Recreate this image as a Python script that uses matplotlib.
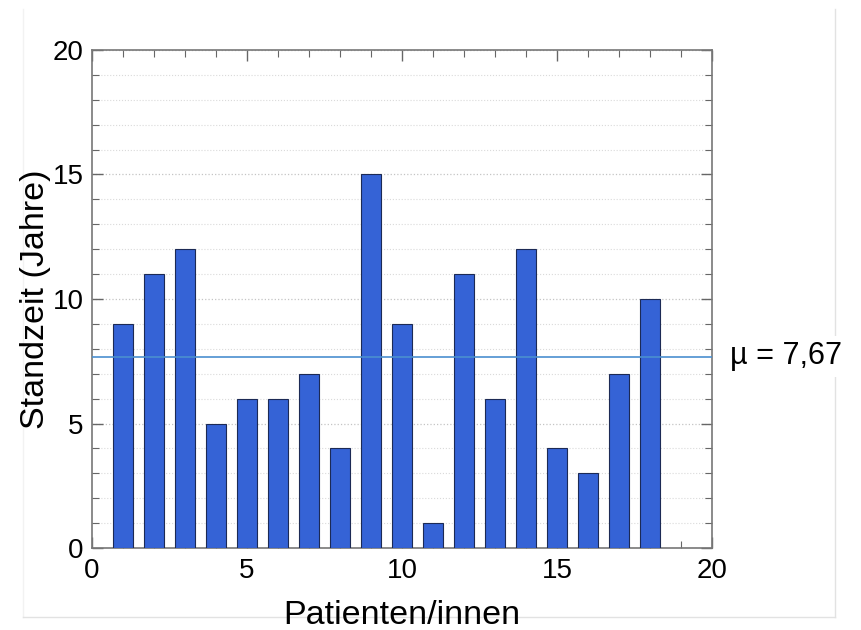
import matplotlib.pyplot as plt
from matplotlib.ticker import MultipleLocator
from matplotlib.lines import Line2D
import numpy as np

plt.rcParams["font.family"] = ["Liberation Sans", "DejaVu Sans"]

# Daten
patienten = np.arange(1, 19)
standzeit = [9, 11, 12, 5, 6, 6, 7, 4, 15, 9, 1, 11, 6, 12, 4, 3, 7, 10]
mu = np.mean(standzeit)

fig = plt.figure(figsize=(8.61, 6.30), dpi=100)

# dezenter Rahmen (links, rechts, unten) hinter allem
W, H = 861, 630
frame = [
    ([23, 23], [617, 9], "#f2f2f2"),
    ([835, 835], [617, 9], "#e2e2e2"),
    ([23, 835], [617, 617], "#e2e2e2"),
]
for xs, ys, c in frame:
    fig.add_artist(Line2D([x / W for x in xs], [1 - y / H for y in ys],
                          transform=fig.transFigure, color=c, linewidth=1.0, zorder=-1))

ax = fig.add_axes([92 / W, 1 - 548 / H, (712 - 92) / W, (548 - 50) / H])

ax.bar(patienten, standzeit, width=0.65, color="#3563d6", edgecolor="#1c2a55",
       linewidth=0.8, zorder=3)
ax.axhline(mu, color="#4a8fcf", linewidth=1.2, zorder=4)

ax.set_xlim(0, 20)
ax.set_ylim(0, 20)
ax.xaxis.set_major_locator(MultipleLocator(5))
ax.yaxis.set_major_locator(MultipleLocator(5))
ax.xaxis.set_minor_locator(MultipleLocator(1))
ax.yaxis.set_minor_locator(MultipleLocator(1))

ax.grid(which="major", axis="y", color="#c4c4c4", linestyle=":", linewidth=0.9, zorder=0)
ax.grid(which="minor", axis="y", color="#dadada", linestyle=":", linewidth=0.8, zorder=0)

ax.tick_params(which="both", direction="in", top=True, right=True, colors="#666666",
               labelcolor="black", labelsize=20)
ax.tick_params(which="major", length=8, width=1.0)
ax.tick_params(which="minor", length=5, width=0.8)
ax.tick_params(axis="x", pad=7)
ax.tick_params(axis="y", pad=6)

for s in ax.spines.values():
    s.set_color("#777777")
    s.set_linewidth(1.2)

ax.set_xlabel("Patienten/innen", fontsize=24.5, labelpad=12)
ax.set_ylabel("Standzeit (Jahre)", fontsize=24.5, labelpad=1)

fig.text(730 / W, 1 - 356 / H, "µ = 7,67", fontsize=22, va="center", ha="left",
         bbox=dict(facecolor="white", edgecolor="none", pad=4))

fig.savefig("out.png", dpi=100, facecolor="white")
